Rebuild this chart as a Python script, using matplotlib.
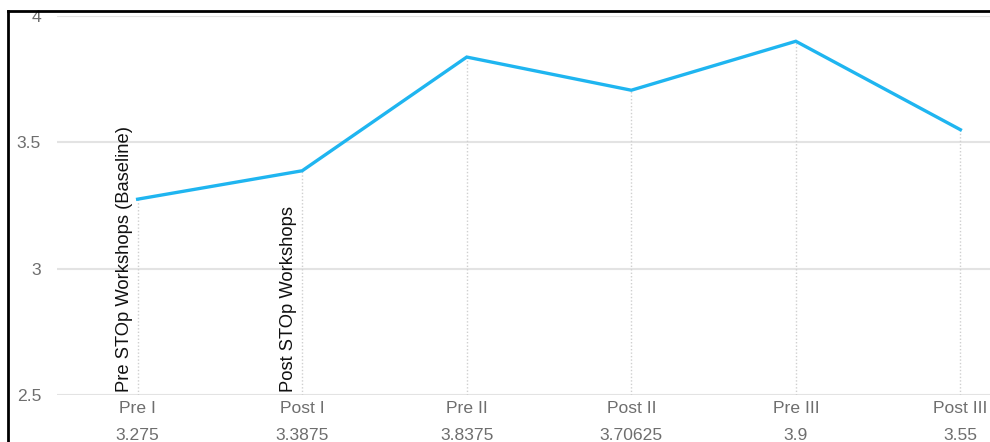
"""Mean score across the STOp workshop stages"""

import matplotlib.pyplot as plt
from matplotlib.lines import Line2D

stages = ['Pre I', 'Post I', 'Pre II', 'Post II', 'Pre III', 'Post III']
scores = [3.275, 3.3875, 3.8375, 3.70625, 3.9, 3.55]
y_ticks = [2.5, 3, 3.5, 4]
y_tick_labels = ['2.5', '3', '3.5', '4']
notes = {0: 'Pre STOp Workshops (Baseline)', 1: 'Post STOp Workshops'}

plt.rcParams['font.family'] = ['Liberation Sans', 'DejaVu Sans']

fig = plt.figure(figsize=(9.9, 4.42), dpi=100)
ax = fig.add_axes([57 / 990, 47 / 442, 933 / 990, 379 / 442])

x = list(range(len(stages)))
ax.plot(x, scores, color='#1fb5f0', linewidth=2.4, solid_joinstyle='miter', zorder=3)

# dotted drop lines from each point to the bottom
for xi, yi in zip(x, scores):
    ax.plot([xi, xi], [2.5, yi], color='#cfcfcf', linestyle=(0, (1, 1.5)), linewidth=1, zorder=2)

# vertical notes next to the first two points
for xi, txt in notes.items():
    ax.text(xi - 0.03, 2.51, txt, rotation=90, ha='right', va='bottom',
            fontsize=13.2, color='#111111')

ax.set_xlim(-0.49, 5.18)
ax.set_ylim(2.5, 4)
ax.set_yticks(y_ticks)
ax.set_yticklabels(y_tick_labels)
ax.set_xticks(x)
ax.set_xticklabels([f'{s}\n{v}' for s, v in zip(stages, scores)], linespacing=1.95)
ax.tick_params(axis='both', length=0, labelsize=12.6, labelcolor='#6e6e6e')
ax.tick_params(axis='y', pad=11.5)
ax.tick_params(axis='x', pad=4.5)
ax.yaxis.grid(True, color='#e3e3e3', linewidth=1.5)
ax.set_axisbelow(True)
for sp in ax.spines.values():
    sp.set_visible(False)

# frame of the screenshot (top and left edges)
fig.add_artist(Line2D([8 / 990, 8 / 990], [0, 1 - 11 / 442], color='black', linewidth=2))
fig.add_artist(Line2D([8 / 990, 1], [1 - 11 / 442, 1 - 11 / 442], color='black', linewidth=2))

fig.savefig('out.png', dpi=100)
